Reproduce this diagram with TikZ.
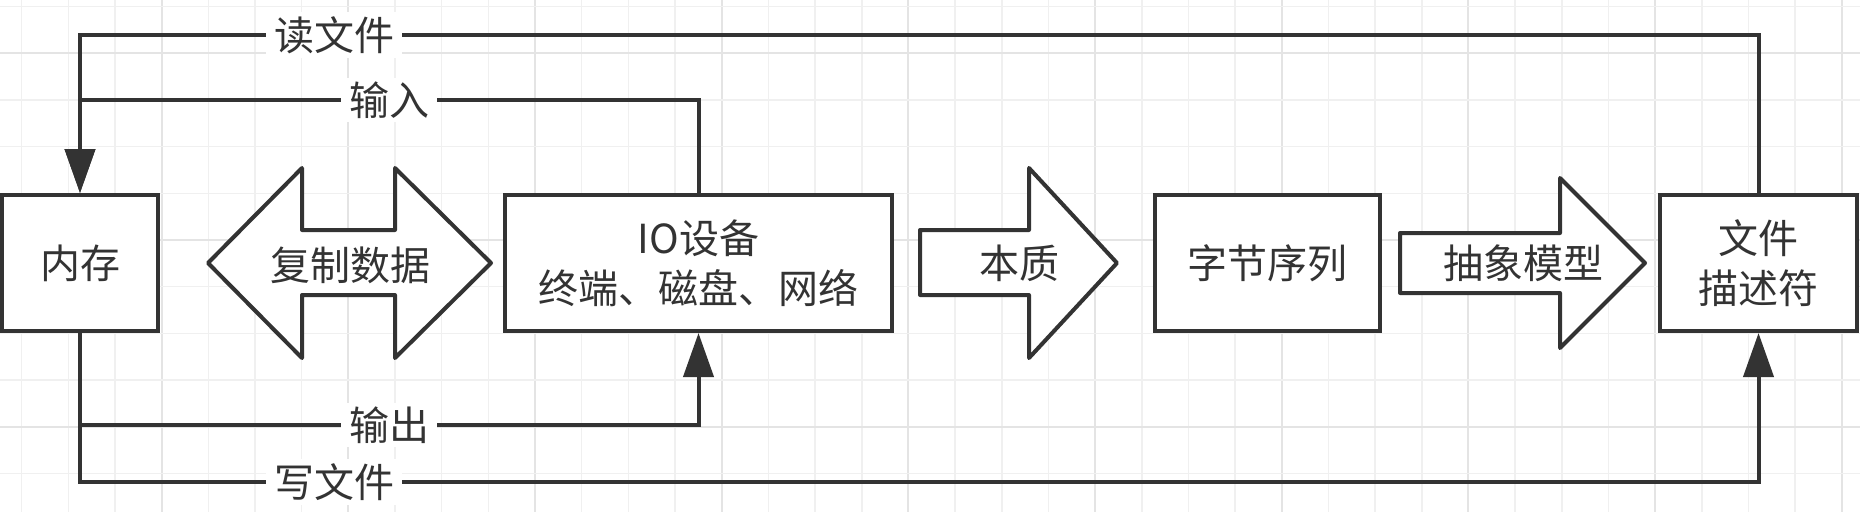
\documentclass[tikz,border=0pt]{standalone}
\usepackage{fontspec}
\newfontfamily\cjk{Noto Sans CJK SC}
\usetikzlibrary{arrows.meta}
\definecolor{dk}{HTML}{333333}
\definecolor{gminor}{HTML}{F0F0F0}
\definecolor{gmajor}{HTML}{E4E4E4}
\begin{document}
\begin{tikzpicture}[x=1pt,y=-1pt,
  txt/.style={font=\cjk\fontsize{40}{50}\selectfont, text=dk},
  box/.style={draw=dk, line width=4pt, fill=white, inner sep=0pt, txt, align=center},
  bigarrow/.style={draw=dk, line width=4pt, fill=white, line join=round},
  conn/.style={draw=dk, line width=4pt},
  tip/.style={-{Triangle[length=44pt,width=30pt]}},
  lbl/.style={txt, fill=white, inner xsep=8pt, inner ysep=4pt}]
\useasboundingbox (0,0) rectangle (1860,512);
\fill[white] (0,0) rectangle (1860,512);
% grid
\foreach \k in {0,...,39}{
  \pgfmathsetmacro{\gx}{21.7+46.67*\k}
  \pgfmathtruncatemacro{\m}{mod(\k,4)}
  \ifnum\m=3 \draw[gmajor, line width=2pt] (\gx,0) -- (\gx,512);
  \else \draw[gminor, line width=1.5pt] (\gx,0) -- (\gx,512); \fi
}
\foreach \k in {0,...,10}{
  \pgfmathsetmacro{\gy}{6.67+46.67*\k}
  \pgfmathtruncatemacro{\m}{mod(\k,4)}
  \ifnum\m=1 \draw[gmajor, line width=2pt] (0,\gy) -- (1860,\gy);
  \else \draw[gminor, line width=1.5pt] (0,\gy) -- (1860,\gy); \fi
}
% boxes
\node[box, minimum width=156pt, minimum height=136pt] (mem) at (80,263) {内存};
\node[box, minimum width=387pt, minimum height=136pt] (io) at (698.5,263) {IO设备\\终端、磁盘、网络};
\node[box, minimum width=225pt, minimum height=136pt] (byte) at (1267.5,263) {字节序列};
\node[box, minimum width=197pt, minimum height=136pt] (file) at (1758.5,263) {文件\\描述符};
% big arrows
\draw[bigarrow] (208,263) -- (302,168) -- (302,230) -- (395,230) -- (395,168) -- (491,263) -- (395,358) -- (395,295) -- (302,295) -- (302,358) -- cycle;
\node[txt] (copy) at (350,265) {复制数据};
\draw[bigarrow] (920,230) -- (1029,230) -- (1029,168) -- (1117,263) -- (1029,358) -- (1029,295) -- (920,295) -- cycle;
\node[txt] (ess) at (1019,263) {本质};
\draw[bigarrow] (1400,233) -- (1560,233) -- (1560,178) -- (1645,263) -- (1560,348) -- (1560,293) -- (1400,293) -- cycle;
\node[txt] (abs) at (1523,263) {抽象模型};
% connectors
\coordinate (yread) at (0,35);
\coordinate (yin) at (0,100);
\coordinate (yout) at (0,425);
\coordinate (ywrite) at (0,482);
\draw[conn, tip] (file.north) -- (file.north |- yread) -| (mem.north);
\draw[conn, tip] (io.north) -- (io.north |- yin) -| (mem.north);
\draw[conn, tip] (mem.south) -- (mem.south |- yout) -| (io.south);
\draw[conn, tip] (mem.south) -- (mem.south |- ywrite) -| (file.south);
% labels
\node[lbl] (lread) at (334,35) {读文件};
\node[lbl] (lin) at (389,100) {输入};
\node[lbl] (lout) at (389,425) {输出};
\node[lbl] (lwrite) at (334,482) {写文件};
\end{tikzpicture}
\end{document}
